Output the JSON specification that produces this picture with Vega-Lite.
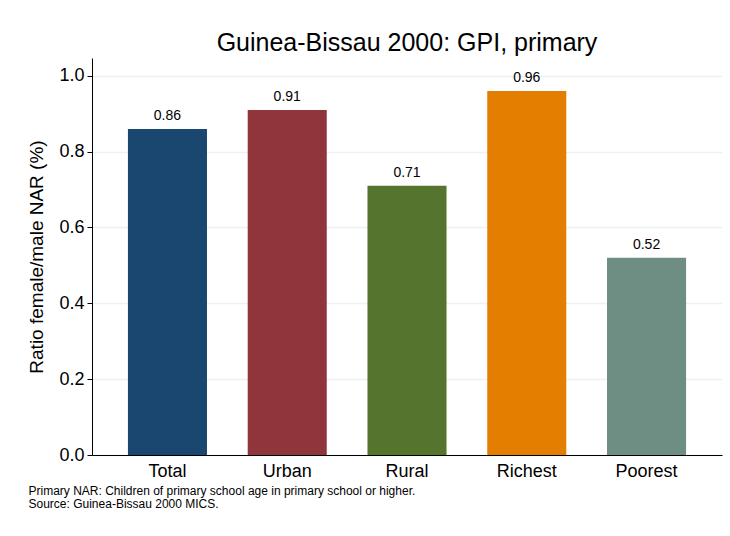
{
  "$schema": "https://vega.github.io/schema/vega-lite/v6.json",
  "width": 630,
  "height": 397,
  "autosize": {"type": "none"},
  "padding": {"left": 92, "top": 58, "right": 8, "bottom": 81},
  "background": "white",
  "config": {
    "font": "Liberation Sans",
    "view": {"stroke": null}
  },
  "title": {
    "text": "Guinea-Bissau 2000: GPI, primary",
    "fontSize": 25,
    "fontWeight": "normal",
    "color": "#000000",
    "anchor": "middle",
    "offset": 2
  },
  "data": {
    "values": [
      {"group": "Total", "value": 0.86},
      {"group": "Urban", "value": 0.91},
      {"group": "Rural", "value": 0.71},
      {"group": "Richest", "value": 0.96},
      {"group": "Poorest", "value": 0.52}
    ]
  },
  "encoding": {
    "x": {
      "field": "group",
      "type": "nominal",
      "sort": null,
      "scale": {"paddingInner": 0.34, "paddingOuter": 0.3},
      "axis": {
        "title": ["Primary NAR: Children of primary school age in primary school or higher.", "Source: Guinea-Bissau 2000 MICS."],
        "titleFontSize": 12,
        "titleFontWeight": "normal",
        "titleColor": "#000000",
        "titleAnchor": "start",
        "titleAlign": "left",
        "titleBaseline": "top",
        "titleX": -64,
        "titleY": 30,
        "titleLineHeight": 13,
        "labelAngle": 0,
        "labelFontSize": 18,
        "labelColor": "#000000",
        "labelPadding": 7,
        "ticks": false,
        "domainColor": "#000000",
        "grid": false
      }
    },
    "y": {
      "field": "value",
      "type": "quantitative",
      "scale": {"domain": [0, 1.047], "nice": false, "zero": true},
      "axis": {
        "title": "Ratio female/male NAR (%)",
        "titleFontSize": 19,
        "titleFontWeight": "normal",
        "titleColor": "#000000",
        "titlePadding": 12,
        "values": [0, 0.2, 0.4, 0.6, 0.8, 1.0],
        "format": ".1f",
        "labelFontSize": 18,
        "labelColor": "#000000",
        "labelPadding": 3,
        "tickSize": 5,
        "tickColor": "#000000",
        "domainColor": "#000000",
        "grid": true,
        "gridColor": "#eaf2f3",
        "gridWidth": 1.5
      }
    }
  },
  "layer": [
    {
      "mark": {"type": "bar"},
      "encoding": {
        "color": {
          "field": "group",
          "type": "nominal",
          "sort": null,
          "scale": {
            "domain": ["Total", "Urban", "Rural", "Richest", "Poorest"],
            "range": ["#1a476f", "#90353b", "#55752f", "#e37e00", "#6e8e84"]
          },
          "legend": null
        }
      }
    },
    {
      "mark": {"type": "text", "baseline": "bottom", "dy": -6, "fontSize": 14, "color": "#000000"},
      "encoding": {
        "text": {"field": "value", "type": "quantitative", "format": ".2f"}
      }
    }
  ]
}
